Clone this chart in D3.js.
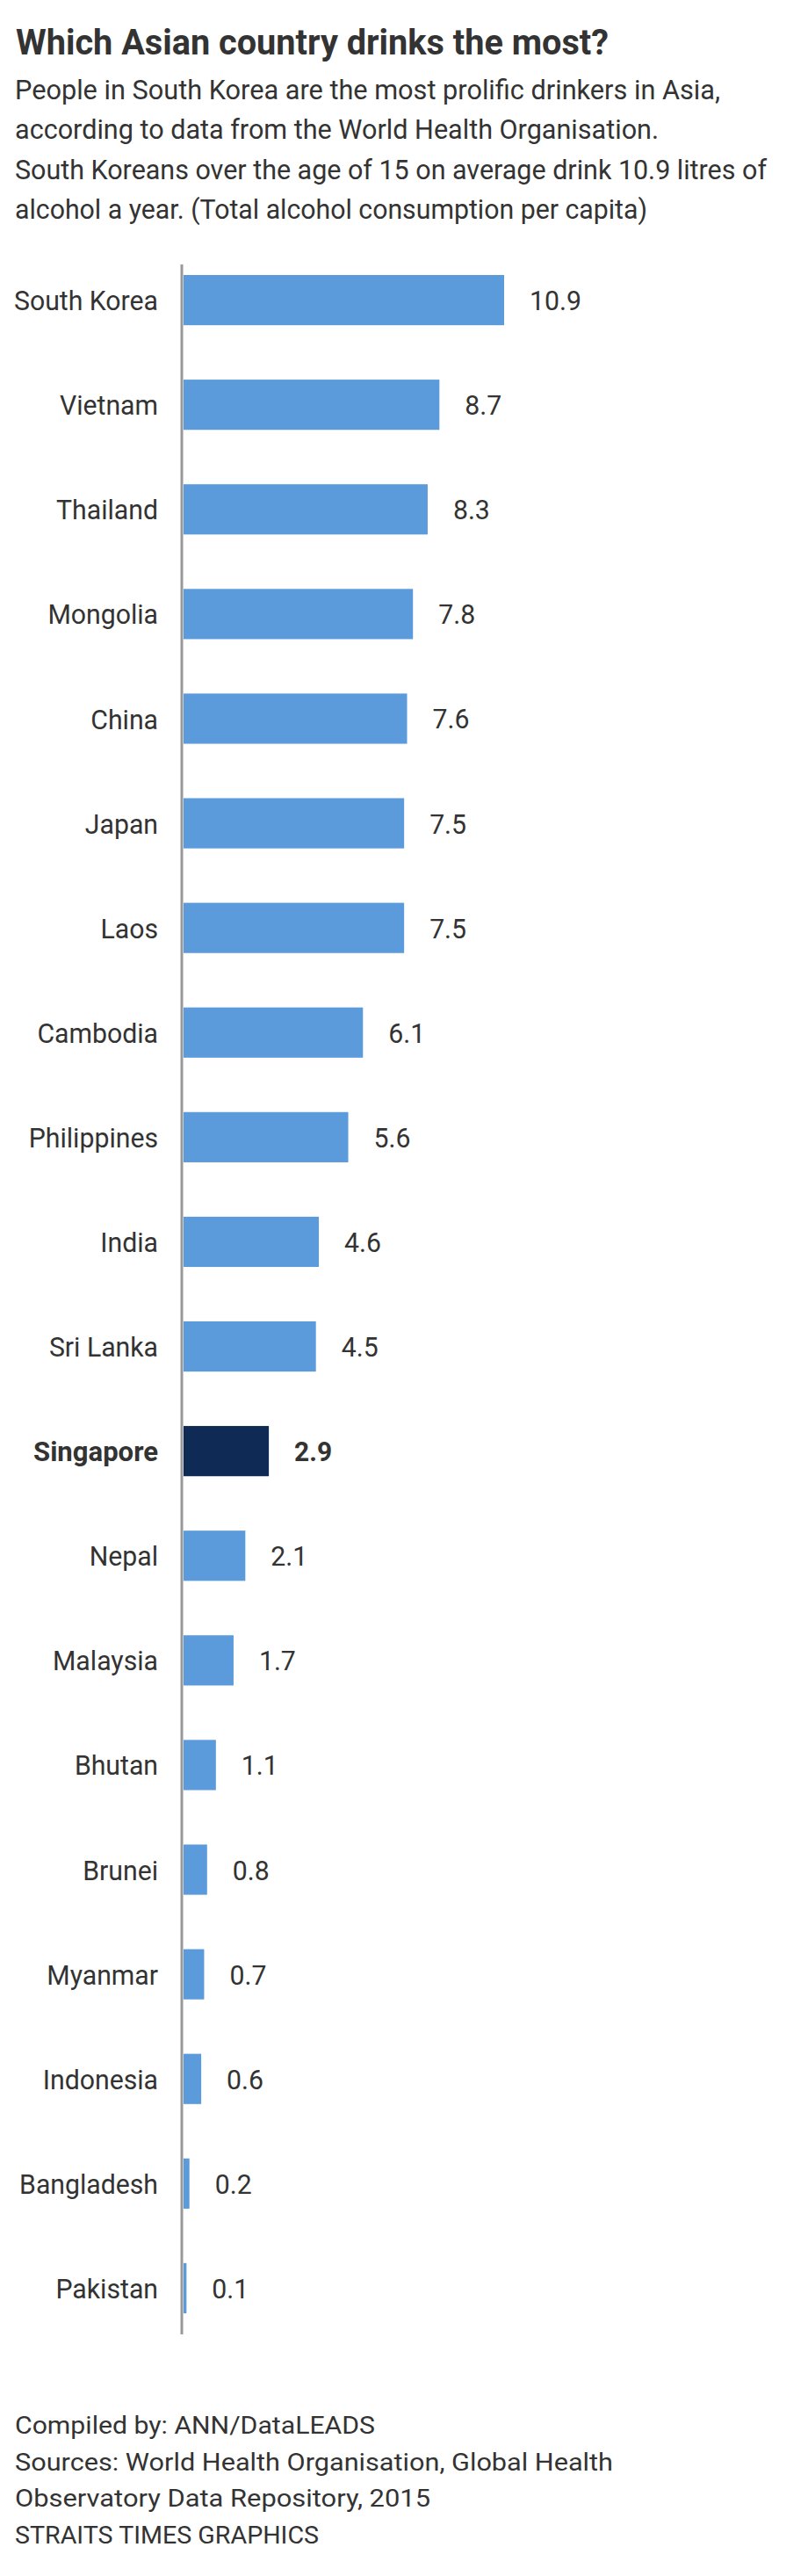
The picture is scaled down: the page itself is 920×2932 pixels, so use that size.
<!DOCTYPE html>
<html><head><meta charset="utf-8">
<script src="https://cdn.jsdelivr.net/npm/d3@7"></script>
<style>
body{margin:0;background:#fff}
svg{display:block}
text{font-family:Roboto,"Noto Sans",sans-serif;fill:#333}
</style>
</head><body>
<svg id="c" width="920" height="2932"></svg>
<script>
// ---- data ----
const countries = ["South Korea","Vietnam","Thailand","Mongolia","China","Japan","Laos","Cambodia","Philippines","India","Sri Lanka","Singapore","Nepal","Malaysia","Bhutan","Brunei","Myanmar","Indonesia","Bangladesh","Pakistan"];
const values = [10.9,8.7,8.3,7.8,7.6,7.5,7.5,6.1,5.6,4.6,4.5,2.9,2.1,1.7,1.1,0.8,0.7,0.6,0.2,0.1];
const highlight = "Singapore";
const titleText = "Which Asian country drinks the most?";
const subtitleLines = [
  "People in South Korea are the most prolific drinkers in Asia,",
  "according to data from the World Health Organisation.",
  "South Koreans over the age of 15 on average drink 10.9 litres of",
  "alcohol a year. (Total alcohol consumption per capita)"
];
const footerLines = [
  "Compiled by: ANN/DataLEADS",
  "Sources: World Health Organisation, Global Health",
  "Observatory Data Repository, 2015",
  "STRAITS TIMES GRAPHICS"
];
const subtitleWidths = [803, 733, 856, 720];
const footerWidths = [410, 681, 473, 346];

// ---- drawing ----
const W = 920, H = 2932;
const svg = d3.select("#c");
svg.append("rect").attr("width", W).attr("height", H).attr("fill", "#fff");

function fitTo(node, w) {
  node.setAttribute("textLength", w);
  node.setAttribute("lengthAdjust", "spacingAndGlyphs");
}

// Title
const t = svg.append("text").attr("x", 18).attr("y", 62)
  .attr("font-size", 41).attr("font-weight", 700).text(titleText);
fitTo(t.node(), 675);

// Subtitle
svg.selectAll("text.sub").data(subtitleLines).join("text")
  .attr("class", "sub").attr("x", 17).attr("y", (d, i) => 113 + i * 45.3)
  .attr("font-size", 32).text(d => d)
  .each(function (d, i) { fitTo(this, subtitleWidths[i]); });

// Scales
const y = d3.scaleBand().domain(countries).range([313, 2633]).paddingInner(0.52).paddingOuter(0);
const x = d3.scaleLinear().domain([0, 10.9]).range([209, 574]);

// Bars
const data = countries.map((c, i) => ({ c, v: values[i] }));
svg.append("g").selectAll("rect").data(data).join("rect")
  .attr("x", x(0)).attr("y", d => y(d.c))
  .attr("width", d => x(d.v) - x(0)).attr("height", y.bandwidth())
  .attr("fill", d => d.c === highlight ? "#0f2a55" : "#5b9bdb");

// Axis line
svg.append("line").attr("x1", 207).attr("x2", 207)
  .attr("y1", y.range()[0] - 12).attr("y2", y.range()[1] + 24)
  .attr("stroke", "#999").attr("stroke-width", 3);

// Category labels via axis
const ax = svg.append("g").attr("transform", "translate(207,0)")
  .call(d3.axisLeft(y).tickSize(0).tickPadding(27));
ax.select(".domain").remove();
ax.selectAll("text")
  .attr("font-size", 32).attr("dy", "0.36em")
  .attr("fill", "#333")
  .style("font-family", "Roboto, sans-serif")
  .attr("font-weight", d => d === highlight ? 700 : 400);

// compression factor based on reference "South Korea" width
let fReg = 1;
ax.selectAll("text").each(function (d) { if (d === "South Korea") fReg = 164 / this.getComputedTextLength(); });
ax.selectAll("text").each(function (d) {
  if (d === highlight) fitTo(this, 142);
  else fitTo(this, this.getComputedTextLength() * fReg);
});

// Value labels
svg.append("g").selectAll("text").data(data).join("text")
  .attr("x", d => x(d.v) + 29).attr("y", d => y(d.c) + y.bandwidth() / 2)
  .attr("dy", "0.36em").attr("font-size", 32)
  .attr("font-weight", d => d.c === highlight ? 700 : 400)
  .text(d => d3.format(".1f")(d.v))
  .each(function (d) {
    if (d.c === highlight) fitTo(this, 43);
    else fitTo(this, this.getComputedTextLength() * fReg);
  });

// Footer
svg.selectAll("text.foot").data(footerLines).join("text")
  .attr("class", "foot").attr("x", 17).attr("y", (d, i) => 2770 + i * 41.7)
  .attr("font-size", 28).text(d => d)
  .each(function (d, i) { fitTo(this, footerWidths[i]); });
</script>
</body></html>
